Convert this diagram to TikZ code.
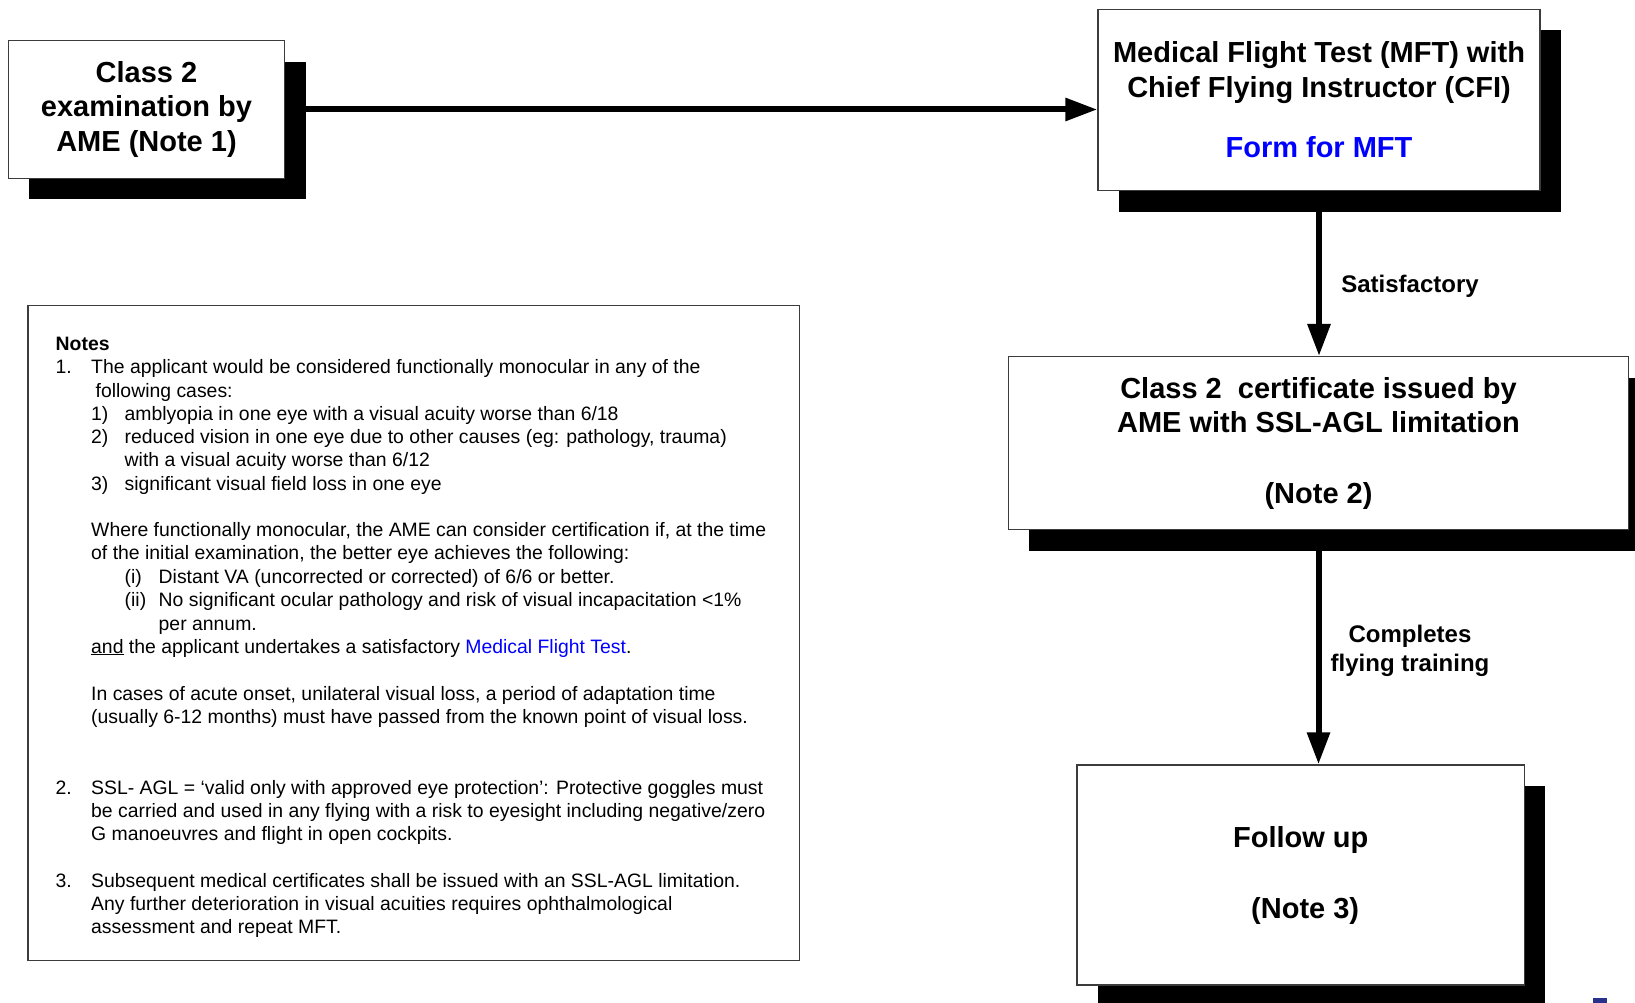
\documentclass[tikz,border=0pt]{standalone}
\usepackage{fontspec}
\setmainfont{Liberation Sans}
\usetikzlibrary{arrows.meta,shadows}
\definecolor{linkblue}{RGB}{0,0,255}
\definecolor{navyfrag}{RGB}{40,50,140}
\definecolor{edge}{RGB}{60,60,60}
\begin{document}
\begin{tikzpicture}[x=1pt,y=-1pt,
  box/.style={draw=edge, line width=1.4pt, fill=white, align=center, inner sep=0pt,
     font=\fontsize{29}{34.5}\selectfont\bfseries,
     general shadow={fill=black, shadow xshift=21pt, shadow yshift=-21pt}},
  conn/.style={line width=6pt, -{Triangle[length=32pt,width=22pt]}},
  lbl/.style={font=\fontsize{24}{29}\selectfont\bfseries, align=center, inner sep=0pt},
  nt/.style={anchor=base west, inner sep=0pt, font=\fontsize{19.4}{23}\selectfont},
]
\clip (0,0) rectangle (1635,1003);
\fill[white] (0,0) rectangle (1635,1003);

% flow boxes
\node[box, minimum width=276.4pt, minimum height=137.7pt] (exam) at (146.5,109.5)
  {Class 2\\examination by\\AME (Note 1)};
\node[box, minimum width=442pt, minimum height=181.4pt] (mft) at (1319,100.1)
  {Medical Flight Test (MFT) with\\Chief Flying Instructor (CFI)\\[26pt]\textcolor{linkblue}{Form for MFT}};
\node[box, minimum width=620.4pt, minimum height=173.1pt] (cert) at (1318.5,443.2)
  {Class 2\ \ certificate issued by\\AME with SSL-AGL limitation\\[36pt](Note 2)};
\node[box, minimum width=447.4pt, minimum height=220pt] (follow) at (1300.7,875)
  {Follow up\\[36.5pt]\hspace*{9pt}(Note 3)};

% connectors
\draw[conn] ([xshift=21pt]exam.east) -- (exam.east -| mft.west);
\draw[conn] ([yshift=-21pt]mft.south) -- (mft.south |- cert.north);
\draw[conn] ([yshift=-21pt]cert.south) -- (cert.south |- follow.north);

% labels
\node[lbl] (sat) at (1410,286.5) {Satisfactory};
\node[lbl] (comp) at (1410,651) {Completes\\flying training};

% notes
\node[draw=edge, line width=1.4pt, minimum width=771.7pt, minimum height=654.8pt, inner sep=0pt] (notes) at (413.85,632.9) {};
\node[nt, font=\fontsize{19.4}{23}\selectfont\bfseries] (t0) at (55.5,350.6) {Notes};
\node[nt] (t1n) at (55.5,373.5) {1.};
\node[nt] (t1) at (91,373.5) {The applicant would be considered functionally monocular in any of the};
\node[nt] (t2) at (95.5,397.5) {following cases:};
\node[nt] (t3n) at (91,420.5) {1)};
\node[nt] (t3) at (124.5,420.5) {amblyopia in one eye with a visual acuity worse than 6/18};
\node[nt] (t4n) at (91,443.4) {2)};
\node[nt] (t4) at (124.5,443.4) {reduced vision in one eye due to other causes (eg: pathology, trauma)};
\node[nt] (t5) at (124.5,466.3) {with a visual acuity worse than 6/12};
\node[nt] (t6n) at (91,490.3) {3)};
\node[nt] (t6) at (124.5,490.3) {significant visual field loss in one eye};
\node[nt] (t7) at (91,536.2) {Where functionally monocular, the AME can consider certification if, at the time};
\node[nt] (t8) at (91,559.1) {of the initial examination, the better eye achieves the following:};
\node[nt] (t9n) at (124.5,583.1) {(i)};
\node[nt] (t9) at (158.5,583.1) {Distant VA (uncorrected or corrected) of 6/6 or better.};
\node[nt] (t10n) at (124.5,606.1) {(ii)};
\node[nt] (t10) at (158.5,606.1) {No significant ocular pathology and risk of visual incapacitation <1\%};
\node[nt] (t11) at (158.5,630) {per annum.};
\node[nt] (t12) at (91,653) {\underline{and} the applicant undertakes a satisfactory \textcolor{linkblue}{Medical Flight Test}.};
\node[nt] (t13) at (91,700.9) {In cases of acute onset, unilateral visual loss, a period of adaptation time};
\node[nt] (t14) at (91,723.9) {(usually 6-12 months) must have passed from the known point of visual loss.};
\node[nt] (t15n) at (55.5,794.8) {2.};
\node[nt] (t15) at (91,794.8) {SSL- AGL = ‘valid only with approved eye protection’: Protective goggles must};
\node[nt] (t16) at (91,817.7) {be carried and used in any flying with a risk to eyesight including negative/zero};
\node[nt] (t17) at (91,840.7) {G manoeuvres and flight in open cockpits.};
\node[nt] (t18n) at (55.5,887.6) {3.};
\node[nt] (t18) at (91,887.6) {Subsequent medical certificates shall be issued with an SSL-AGL limitation.};
\node[nt] (t19) at (91,910.5) {Any further deterioration in visual acuities requires ophthalmological};
\node[nt] (t20) at (91,933.5) {assessment and repeat MFT.};

% cut-off fragment at the bottom edge
\fill[navyfrag] (1593,998) rectangle (1607,1003);
\end{tikzpicture}
\end{document}
